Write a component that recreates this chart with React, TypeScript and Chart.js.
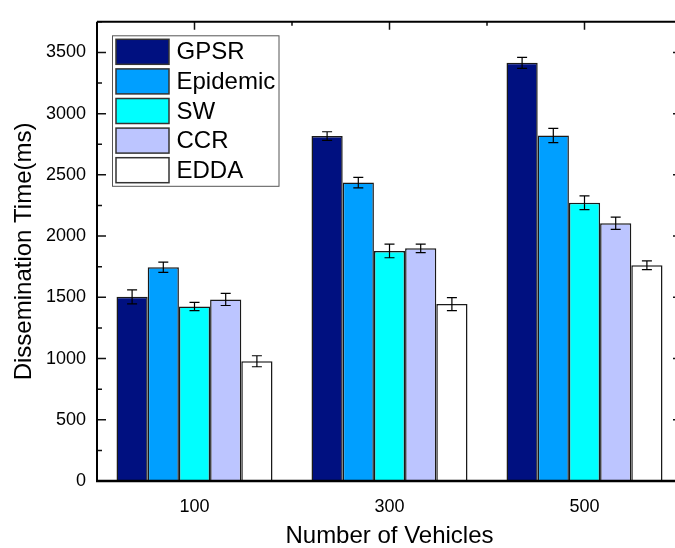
import React, { useEffect, useRef } from 'react';
import { Chart, registerables } from 'chart.js';

Chart.register(...registerables);

const categories = [100, 300, 500];
const seriesNames = ['GPSR', 'Epidemic', 'SW', 'CCR', 'EDDA'];
const gpsr = [1504, 2817, 3415];
const gpsrErr = [57, 35, 45];
const epidemic = [1746, 2437, 2822];
const epidemicErr = [42, 43, 58];
const sw = [1425, 1879, 2272];
const swErr = [33, 56, 56];
const ccr = [1483, 1900, 2105];
const ccrErr = [50, 35, 50];
const edda = [978, 1445, 1762];
const eddaErr = [45, 53, 36];
const seriesColors = ['#001080', '#009FFF', '#00FFFF', '#BCC5FF', '#FFFFFF'];
const yTicks = [0, 500, 1000, 1500, 2000, 2500, 3000, 3500];
const xMinorTicks = [200, 400];

const seriesValues = [gpsr, epidemic, sw, ccr, edda];
const seriesErrors = [gpsrErr, epidemicErr, swErr, ccrErr, eddaErr];

const FONT = "'Liberation Sans', Arial, Helvetica, sans-serif";

const decorPlugin = {
  id: 'decor',
  afterDatasetsDraw(chart: any) {
    const ctx = chart.ctx;
    const y = chart.scales.y;
    ctx.save();
    ctx.strokeStyle = '#000';
    ctx.lineWidth = 1.2;
    chart.data.datasets.forEach((ds: any, d: number) => {
      const meta = chart.getDatasetMeta(d);
      meta.data.forEach((bar: any, i: number) => {
        const v = seriesValues[d][i];
        const e = seriesErrors[d][i];
        const x = bar.x;
        const hi = y.getPixelForValue(v + e);
        const lo = y.getPixelForValue(v - e);
        ctx.beginPath();
        ctx.moveTo(x, hi);
        ctx.lineTo(x, lo);
        ctx.moveTo(x - 5, hi);
        ctx.lineTo(x + 5, hi);
        ctx.moveTo(x - 5, lo);
        ctx.lineTo(x + 5, lo);
        ctx.stroke();
      });
    });
    ctx.restore();
  },
  afterDraw(chart: any) {
    const ctx = chart.ctx;
    const ca = chart.chartArea;
    const xs = chart.scales.x;
    const ys = chart.scales.y;
    ctx.save();
    // ticks
    ctx.strokeStyle = '#111';
    ctx.lineWidth = 1.5;
    ctx.beginPath();
    yTicks.forEach((t) => {
      const py = ys.getPixelForValue(t);
      ctx.moveTo(ca.left, py);
      ctx.lineTo(ca.left + 9, py);
      ctx.moveTo(ca.right, py);
      ctx.lineTo(ca.right - 9, py);
      const pm = ys.getPixelForValue(t + 250);
      ctx.moveTo(ca.left, pm);
      ctx.lineTo(ca.left + 5, pm);
    });
    categories.forEach((c) => {
      const px = xs.getPixelForValue(c);
      ctx.moveTo(px, ca.top);
      ctx.lineTo(px, ca.top + 8);
    });
    xMinorTicks.forEach((c) => {
      const px = xs.getPixelForValue(c);
      ctx.moveTo(px, ca.top);
      ctx.lineTo(px, ca.top + 4);
    });
    ctx.stroke();
    // frame
    ctx.strokeStyle = '#000';
    ctx.lineWidth = 2;
    ctx.beginPath();
    ctx.moveTo(ca.left, ca.top);
    ctx.lineTo(ca.right, ca.top);
    ctx.lineTo(ca.right, ca.bottom);
    ctx.moveTo(ca.left, ca.top);
    ctx.lineTo(ca.left, ca.bottom);
    ctx.stroke();
    ctx.lineWidth = 2.5;
    ctx.beginPath();
    ctx.moveTo(ca.left - 1, ca.bottom);
    ctx.lineTo(ca.right, ca.bottom);
    ctx.stroke();
    // legend
    const lx = ca.left + 15.5;
    const ly = ca.top + 14;
    const lw = 166.5;
    const lh = 150.5;
    ctx.fillStyle = '#fff';
    ctx.fillRect(lx, ly, lw, lh);
    ctx.strokeStyle = '#555';
    ctx.lineWidth = 1;
    ctx.strokeRect(lx, ly, lw, lh);
    ctx.font = `24px ${FONT}`;
    ctx.textBaseline = 'middle';
    ctx.textAlign = 'left';
    chart.data.datasets.forEach((ds: any, d: number) => {
      const sy = ly + 3.5 + d * 29.6;
      ctx.fillStyle = ds.backgroundColor;
      ctx.fillRect(lx + 3.5, sy, 53, 25);
      ctx.strokeStyle = '#333';
      ctx.lineWidth = 1.5;
      ctx.strokeRect(lx + 3.5, sy, 53, 25);
      ctx.fillStyle = '#000';
      ctx.fillText(ds.label, lx + 64, sy + 13.5);
    });
    ctx.restore();
  },
};

export default function App() {
  const ref = useRef<HTMLCanvasElement | null>(null);
  useEffect(() => {
    if (!ref.current) return;
    const datasets = seriesNames.map((name, d) => ({
      label: name,
      data: categories.map((c, i) => ({ x: c, y: seriesValues[d][i] })),
      backgroundColor: seriesColors[d],
      borderColor: '#1a1a1a',
      borderWidth: 1.5,
      categoryPercentage: 0.8,
      barPercentage: 1,
    }));
    const chart = new Chart(ref.current, {
      type: 'bar',
      data: { datasets },
      plugins: [decorPlugin],
      options: {
        animation: false,
        responsive: false,
        devicePixelRatio: 1,
        layout: { padding: { top: 10, right: 2, left: 0, bottom: 0 } },
        plugins: { legend: { display: false }, tooltip: { enabled: false } },
        scales: {
          x: {
            type: 'linear',
            min: 0,
            max: 600,
            offset: false,
            grid: { display: false, drawTicks: false, offset: false },
            border: { display: false },
            afterBuildTicks: (s: any) => {
              s.ticks = categories.map((v) => ({ value: v }));
            },
            afterFit: (s: any) => {
              s.height = 67;
            },
            ticks: {
              font: { family: FONT, size: 18 },
              color: '#000',
              padding: 15,
              autoSkip: false,
              maxRotation: 0,
              callback: (v: any) => String(v),
            },
            title: {
              display: true,
              text: 'Number of Vehicles',
              font: { family: FONT, size: 24, lineHeight: 1 },
              color: '#000',
              padding: { top: 0, bottom: 0 },
            },
          },
          y: {
            type: 'linear',
            min: 0,
            max: 3750,
            grid: { display: false, drawTicks: false },
            border: { display: false },
            afterBuildTicks: (s: any) => {
              s.ticks = yTicks.map((v) => ({ value: v }));
            },
            afterFit: (s: any) => {
              s.width = 97;
            },
            ticks: {
              font: { family: FONT, size: 18 },
              color: '#000',
              padding: 11,
              callback: (v: any) => String(v),
            },
            title: {
              display: true,
              text: 'Dissemination Time(ms)',
              font: { family: FONT, size: 24, lineHeight: 1.2 },
              color: '#000',
              padding: { top: 10, bottom: 0 },
            },
          },
        },
      } as any,
    });
    return () => chart.destroy();
  }, []);
  return (
    <div style={{ position: 'absolute', left: 0, top: 0, width: 675, height: 548, overflow: 'hidden', background: '#fff' }}>
      <canvas ref={ref} width={684} height={548} style={{ display: 'block' }} />
    </div>
  );
}
